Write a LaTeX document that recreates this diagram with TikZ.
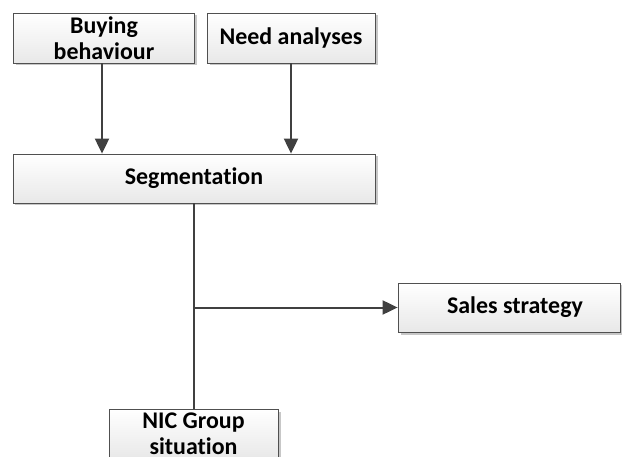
\documentclass[tikz,border=0pt]{standalone}
\usepackage{fontspec}
\setmainfont{Carlito}[Ligatures=NoCommon]
\usetikzlibrary{shadows,arrows.meta}
\definecolor{edge}{HTML}{404040}
\definecolor{boxline}{HTML}{505050}
\begin{document}
\begin{tikzpicture}[x=1bp,y=-1bp,
  blk/.style={rectangle, draw=boxline, line width=0.8bp, inner sep=0pt,
    top color=white, bottom color=black!9,
    font=\fontsize{24}{26}\selectfont\bfseries, align=center,
    drop shadow={shadow xshift=2.5bp, shadow yshift=-2.5bp, fill=black!22, opacity=1}},
  link/.style={draw=edge, line width=2bp},
  tip/.style={-{Triangle[length=15bp,width=14bp]}}
]
\useasboundingbox (0,0) rectangle (622,457);
\clip (0,0) rectangle (622,457);

% boxes
\node[blk, minimum width=181bp, minimum height=50bp] (buy)   at (104,38)    {Buying\\behaviour};
\node[blk, minimum width=168bp, minimum height=50bp] (need)  at (291,38)    {Need analyses};
\node[blk, minimum width=362bp, minimum height=49bp] (seg)   at (194,178.5) {Segmentation};
\node[blk, minimum width=222bp, minimum height=49bp] (sales) at (509,307.5) {\hspace*{12bp}Sales strategy};
\node[blk, minimum width=169bp, minimum height=50bp] (nic)   at (193.5,434) {NIC Group\\situation};

% connectors
\draw[link, tip] ([xshift=-2bp]buy.south) -- ([xshift=-2bp]buy.south |- seg.north);
\draw[link, tip] (need.south) -- (need.south |- seg.north);
\draw[link] (seg.south) -- (seg.south |- nic.north);
\coordinate (j) at (seg.south |- sales.west);
\draw[link, tip] (j) -- (sales.west);
\end{tikzpicture}
\end{document}
